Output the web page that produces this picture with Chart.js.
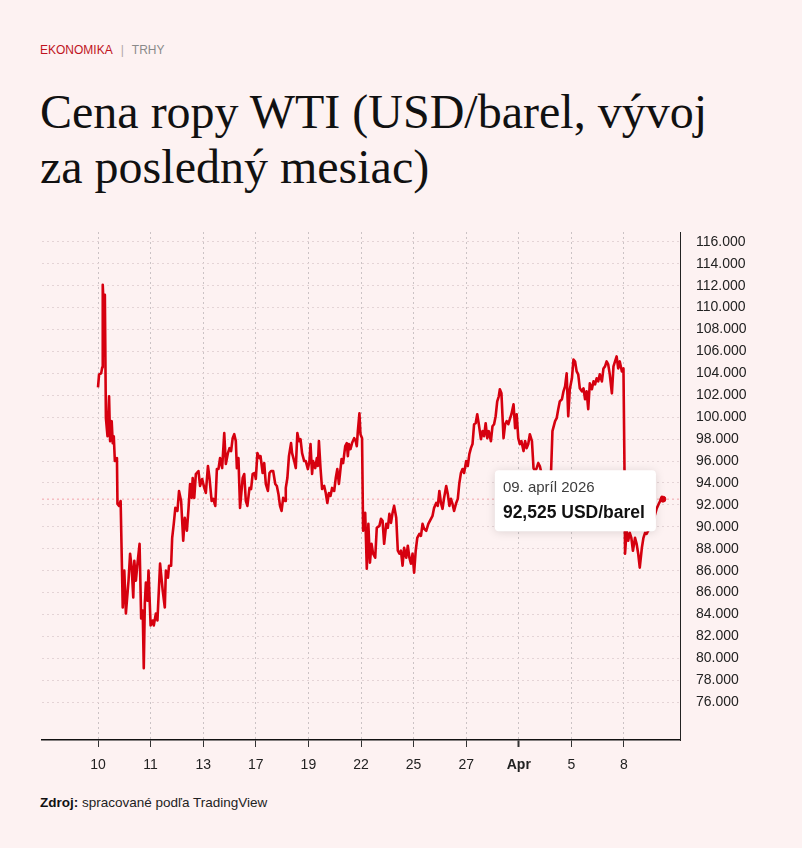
<!DOCTYPE html>
<html lang="sk">
<head>
<meta charset="utf-8">
<title>Cena ropy WTI</title>
<script src="https://cdn.jsdelivr.net/npm/chart.js@4.4.1/dist/chart.umd.min.js"></script>
<style>
  html, body { margin: 0; padding: 0; background: #fdf2f2; }
  #page { position: relative; width: 802px; height: 848px; overflow: hidden; font-family: "Liberation Sans", Arial, sans-serif; }
  .kicker { position: absolute; left: 40px; top: 43px; font-size: 12px; line-height: 14px; }
  .kicker .sec { color: #c0141e; }
  .kicker .bar { color: #b0a8a8; margin: 0 8px; }
  .kicker .sub { color: #8a8a8a; }
  h1 { position: absolute; left: 40px; top: 84px; margin: 0; font: normal 48px/55px "Liberation Serif", "Times New Roman", serif; color: #111; }
  #wrap { position: absolute; left: 0; top: 220px; width: 802px; height: 575px; }
  .source { position: absolute; left: 40px; top: 795px; font-size: 13.5px; line-height: 16px; color: #222; }
  .source b { color: #111; }
</style>
</head>
<body>
<div id="page">
  <div class="kicker"><span class="sec">EKONOMIKA</span><span class="bar">|</span><span class="sub">TRHY</span></div>
  <h1>Cena ropy WTI (USD/barel, vývoj<br>za posledný mesiac)</h1>
  <div id="wrap"><canvas id="chart"></canvas></div>
  <div class="source"><b>Zdroj:</b> spracované podľa TradingView</div>
</div>
<script>
// x axis labels (evenly spaced, one per unit of the time index)
const xLabels = ['10', '11', '13', '17', '19', '22', '25', '27', 'Apr', '5', '8'];

// y axis grid values and the labels printed next to them (as in the source)
const yTickValues = [74, 76, 78, 80, 82, 84, 86, 88, 90, 92, 94, 96, 98, 100, 102, 104, 106, 108, 110, 112, 114, 116];
const yLabels = ['76.000', '78.000', '80.000', '82.000', '84.000', '86.000', '86.000', '88.000', '90.000', '92.000', '94.000',
                 '96.000', '98.000', '100.000', '102.000', '104.000', '106.000', '108.000', '110.000', '112.000', '114.000', '116.000'];

// time index of each quote (0 = "10", 1 = "11", ... 10 = "8")
const times = [
  0.00, 0.02, 0.06, 0.08, 0.09, 0.11, 0.13, 0.15, 0.18, 0.21, 0.23, 0.26, 0.28, 0.30, 0.32, 0.36, 0.37, 0.40, 0.43, 0.47,
  0.50, 0.53, 0.58, 0.61, 0.64, 0.67, 0.69, 0.72, 0.75, 0.79, 0.82, 0.85, 0.87, 0.89, 0.91, 0.94, 0.96, 0.98, 1.00, 1.04,
  1.06, 1.10, 1.13, 1.18, 1.23, 1.27, 1.29, 1.33, 1.35, 1.39, 1.41, 1.44, 1.47, 1.51, 1.54, 1.58, 1.62, 1.65, 1.69, 1.72,
  1.75, 1.78, 1.80, 1.83, 1.86, 1.91, 1.94, 1.98, 2.02, 2.05, 2.09, 2.12, 2.16, 2.19, 2.23, 2.26, 2.29, 2.32, 2.36, 2.40,
  2.43, 2.47, 2.50, 2.53, 2.56, 2.59, 2.62, 2.64, 2.67, 2.70,
  2.75, 2.78, 2.81, 2.84, 2.88, 2.91, 2.94, 2.98, 3.00, 3.03, 3.07, 3.09, 3.13, 3.16, 3.19, 3.23, 3.26, 3.29, 3.33, 3.37,
  3.40, 3.43, 3.46, 3.49, 3.52, 3.56, 3.57, 3.60, 3.63, 3.67, 3.69, 3.73, 3.76, 3.79, 3.82, 3.85, 3.88, 3.92, 3.95, 3.99,
  4.02, 4.04, 4.07, 4.09, 4.13, 4.16, 4.18, 4.20, 4.23, 4.26, 4.30, 4.33, 4.36, 4.39, 4.42, 4.45, 4.49, 4.52, 4.55, 4.58,
  4.60, 4.63, 4.66, 4.70, 4.73, 4.75, 4.77, 4.80, 4.83, 4.87, 4.90, 4.92, 4.94, 4.97, 4.99, 5.02, 5.04, 5.08, 5.11, 5.14,
  5.17, 5.20, 5.23, 5.27, 5.30, 5.35,
  5.38, 5.41, 5.44, 5.48, 5.51, 5.54, 5.57, 5.60, 5.63, 5.67, 5.70, 5.73, 5.76, 5.79, 5.82, 5.86, 5.89, 5.92, 5.95, 5.98,
  6.01, 6.04, 6.07, 6.11, 6.14, 6.17, 6.20, 6.24, 6.28, 6.33, 6.36, 6.39, 6.43, 6.46, 6.49, 6.52, 6.55, 6.58, 6.62, 6.65,
  6.68, 6.71, 6.74, 6.77, 6.81, 6.84, 6.87, 6.90, 6.93, 6.96, 7.00, 7.03, 7.06, 7.09, 7.12, 7.15, 7.18, 7.21, 7.24, 7.28,
  7.31, 7.34, 7.37, 7.40, 7.43, 7.47, 7.50, 7.53, 7.56, 7.59, 7.62, 7.64, 7.67, 7.71, 7.74, 7.77, 7.80, 7.83, 7.86, 7.90,
  7.93, 7.96, 7.99, 8.02, 8.05, 8.09, 8.12, 8.15, 8.18, 8.21, 8.25, 8.28, 8.31, 8.34, 8.37, 8.40, 8.43,
  8.50, 8.56, 8.61, 8.64, 8.69, 8.72, 8.75, 8.78, 8.82, 8.85, 8.88, 8.91, 8.94, 8.97, 9.01, 9.04, 9.07, 9.10, 9.13, 9.16,
  9.20, 9.23, 9.26, 9.29, 9.32, 9.35, 9.39, 9.42, 9.45, 9.48, 9.51, 9.54, 9.58, 9.61, 9.64, 9.67, 9.70, 9.73, 9.77, 9.80,
  9.83, 9.86, 9.89, 9.92, 9.96, 9.99, 10.01, 10.02, 10.05, 10.08, 10.11, 10.14, 10.17, 10.21, 10.24, 10.27, 10.30, 10.34,
  10.37, 10.40, 10.43, 10.46, 10.53, 10.62, 10.66, 10.69, 10.72, 10.74
];

// WTI price, USD/barrel
const prices = [
  102.73, 103.91, 104.00, 104.55, 112.09, 109.64, 111.18, 99.91, 98.27, 101.91, 97.82, 99.64, 97.64, 98.27, 96.00, 96.27, 92.09, 91.91, 92.36, 82.64,
  86.00, 82.09, 85.09, 87.55, 86.27, 83.55, 86.91, 85.09, 86.64, 88.45, 81.64, 82.36, 77.09, 83.00, 84.91, 83.27, 86.00, 83.55, 81.00, 81.45,
  81.00, 82.09, 81.45, 86.64, 84.18, 82.64, 86.00, 85.36, 86.45, 86.45, 89.00, 90.27, 91.73, 91.45, 93.27, 92.36, 88.73, 90.82, 89.64, 91.64,
  93.91, 92.64, 94.45, 92.64, 94.82, 95.09, 93.73, 94.36, 93.55, 93.09, 95.55, 94.45, 92.36, 92.55, 91.91, 95.27, 95.27, 96.27, 95.36, 98.55,
  95.73, 96.73, 97.18, 96.91, 98.09, 98.45, 97.82, 95.36, 96.27, 91.73,
  94.45, 94.82, 92.36, 91.91, 93.55, 93.45, 94.82, 94.91, 94.36, 96.73, 96.27, 96.45, 94.91, 95.82, 93.91, 93.27, 94.91, 95.09, 95.09, 93.91,
  93.73, 93.00, 91.91, 91.45, 92.64, 92.36, 93.55, 94.45, 96.45, 97.64, 96.73, 96.00, 95.36, 98.55, 97.82, 98.00, 96.73, 96.00, 96.00, 95.27,
  96.00, 97.55, 94.82, 96.00, 95.36, 96.27, 95.55, 97.82, 95.36, 93.45, 93.73, 93.09, 92.18, 93.09, 92.82, 93.55, 93.27, 94.45, 95.27, 93.91,
  94.82, 96.18, 95.82, 97.36, 97.64, 96.45, 97.55, 97.09, 97.64, 98.09, 97.82, 97.36, 98.73, 100.36, 98.45, 98.09, 89.64, 91.27, 86.18, 90.27,
  86.73, 88.45, 87.55, 87.18, 89.91, 90.09,
  90.73, 90.55, 88.45, 90.27, 89.91, 91.18, 90.36, 91.27, 91.91, 90.82, 87.82, 87.55, 87.82, 86.45, 88.09, 87.18, 88.27, 87.18, 86.64, 87.55,
  85.82, 87.82, 89.00, 89.36, 89.18, 90.27, 89.82, 89.64, 90.27, 90.73, 91.00, 91.73, 92.18, 91.91, 93.27, 92.18, 91.64, 92.64, 93.73, 93.00,
  91.91, 92.55, 92.09, 91.45, 92.18, 92.55, 94.00, 94.91, 95.27, 94.91, 96.00, 95.55, 96.64, 97.18, 97.55, 99.36, 99.45, 100.27, 99.36, 98.00,
  98.73, 98.27, 99.45, 98.09, 98.73, 97.82, 99.18, 99.36, 100.09, 101.45, 101.91, 102.55, 102.18, 98.09, 99.36, 99.64, 99.36, 99.82, 100.27, 101.18,
  99.00, 100.27, 98.09, 97.55, 97.82, 96.91, 97.82, 97.18, 97.55, 98.45, 97.82, 95.36, 95.09, 95.36, 95.82, 95.55, 94.91,
  94.18, 93.82, 94.55, 98.73, 99.64, 99.91, 100.73, 101.45, 101.64, 102.36, 102.82, 104.00, 100.09, 102.55, 103.55, 105.27, 105.09, 104.18, 103.91, 102.64,
  102.36, 102.64, 101.64, 102.36, 100.73, 103.09, 102.55, 103.27, 103.00, 103.55, 103.27, 103.91, 103.27, 104.45, 104.64, 105.09, 104.82, 103.91, 102.18, 104.64,
  105.09, 105.55, 104.45, 105.09, 104.18, 104.45, 95.09, 87.55, 89.64, 88.73, 89.45, 89.00, 87.82, 89.00, 88.45, 87.55, 86.27, 88.09,
  89.00, 89.45, 89.36, 89.64, 90.09, 91.64, 92.09, 92.36, 92.73, 92.525
];

const tooltipDate = '09. apríl 2026';
const unit = 'USD/barel';

const fontFamily = '"Liberation Sans", Arial, sans-serif';
const lineRed = '#d6000f';
const last = prices.length - 1;

// dotted line at the last price
const lastPriceLine = {
  id: 'lastPriceLine',
  beforeDatasetsDraw(chart) {
    const { ctx, chartArea, scales } = chart;
    const y = scales.y.getPixelForValue(prices[last]);
    ctx.save();
    ctx.strokeStyle = '#f2a3aa';
    ctx.lineWidth = 1;
    ctx.setLineDash([2, 3]);
    ctx.beginPath();
    ctx.moveTo(chartArea.left, y);
    ctx.lineTo(chartArea.right, y);
    ctx.stroke();
    ctx.restore();
  }
};

// fixed label box beside the last point
const lastPriceBox = {
  id: 'lastPriceBox',
  afterDraw(chart) {
    const { ctx, scales } = chart;
    const px = scales.x.getPixelForValue(times[last]);
    const py = scales.y.getPixelForValue(prices[last]);
    const w = 161, h = 61, r = 4;
    const left = px - 7 - w, top = py - 29;

    ctx.save();
    ctx.shadowColor = 'rgba(0,0,0,0.13)';
    ctx.shadowBlur = 10;
    ctx.shadowOffsetY = 1;
    ctx.fillStyle = '#ffffff';
    ctx.beginPath();
    ctx.moveTo(left + r, top);
    ctx.arcTo(left + w, top, left + w, top + h, r);
    ctx.arcTo(left + w, top + h, left, top + h, r);
    ctx.arcTo(left, top + h, left, top, r);
    ctx.arcTo(left, top, left + w, top, r);
    ctx.closePath();
    ctx.fill();
    ctx.restore();

    ctx.save();
    ctx.textBaseline = 'middle';
    ctx.textAlign = 'left';
    ctx.fillStyle = '#3c3c3c';
    ctx.font = '15px ' + fontFamily;
    ctx.fillText(tooltipDate, left + 8, top + 18);
    ctx.fillStyle = '#111';
    ctx.font = 'bold 17.5px ' + fontFamily;
    ctx.fillText(prices[last].toFixed(3).replace('.', ',') + ' ' + unit, left + 8, top + 43);
    ctx.restore();
  }
};

new Chart(document.getElementById('chart'), {
  type: 'line',
  data: {
    datasets: [{
      data: times.map((t, i) => ({ x: t, y: prices[i] })),
      borderColor: lineRed,
      borderWidth: 2.6,
      borderJoinStyle: 'round',
      tension: 0,
      pointRadius: c => c.dataIndex === last ? 3 : 0,
      pointBackgroundColor: lineRed,
      pointBorderColor: lineRed,
      pointBorderWidth: 1
    }]
  },
  options: {
    responsive: true,
    maintainAspectRatio: false,
    animation: false,
    layout: { padding: { left: 42, top: 12, right: 42, bottom: 15 } },
    plugins: { legend: { display: false }, tooltip: { enabled: false } },
    scales: {
      x: {
        type: 'linear',
        min: -1.065,
        max: 11.065,
        afterBuildTicks: s => { s.ticks = xLabels.map((_, i) => ({ value: i })); },
        afterFit: s => { s.height = 40; s.paddingLeft = 0; s.paddingRight = 0; },
        grid: {
          color: '#cbc3c5',
          lineWidth: 1,
          tickLength: 7,
          tickColor: '#333',
          tickWidth: c => xLabels[c.index] === 'Apr' ? 2 : 1
        },
        border: { color: '#111', width: 1.5, dash: [2, 3] },
        ticks: {
          autoSkip: false,
          maxRotation: 0,
          padding: 10,
          color: '#222',
          font: c => ({ family: fontFamily, size: 14, weight: xLabels[c.index] === 'Apr' ? 'bold' : 'normal' }),
          callback: (v, i) => xLabels[i]
        }
      },
      y: {
        type: 'linear',
        position: 'right',
        min: 70.55,
        max: 116.9,
        afterBuildTicks: s => { s.ticks = yTickValues.map(v => ({ value: v })); },
        afterFit: s => { s.width = 80; s.paddingTop = 0; s.paddingBottom = 0; },
        grid: { color: '#e4d4d6', lineWidth: 1, drawTicks: false },
        border: { color: '#222', width: 1, dash: [2, 3] },
        ticks: {
          padding: 16,
          color: '#222',
          font: { family: fontFamily, size: 14 },
          callback: (v, i) => yLabels[i]
        }
      }
    }
  },
  plugins: [lastPriceLine, lastPriceBox]
});
</script>
</body>
</html>
